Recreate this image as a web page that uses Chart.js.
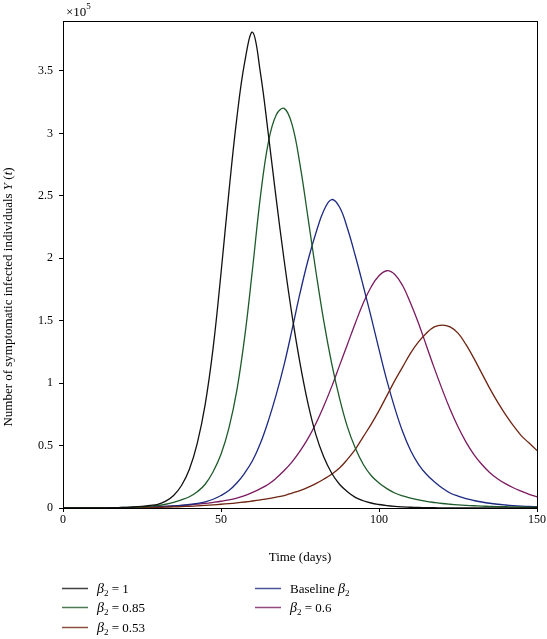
<!DOCTYPE html>
<html>
<head>
<meta charset="utf-8">
<script src="https://cdn.jsdelivr.net/npm/chart.js@4.4.1/dist/chart.umd.min.js"></script>
<style>
  html, body { margin: 0; padding: 0; background: #fff; }
  #wrap { width: 547px; height: 639px; }
</style>
</head>
<body>
<div id="wrap"><canvas id="chart" width="547" height="639"></canvas></div>
<script>
// Tempo (dias)
var days = [0, 2.5, 5, 7.5, 10, 12.5, 15, 17.5, 20, 22.5, 25, 27.5, 30, 32.5, 35, 37.5, 40, 42.5, 45, 47.5,
    50, 52.5, 55, 57.5, 60, 62.5, 65, 67.5, 70, 72.5, 75, 77.5, 80, 82.5, 85, 87.5, 90, 92.5, 95, 97.5,
    100, 102.5, 105, 107.5, 110, 112.5, 115, 117.5, 120, 122.5, 125, 127.5, 130, 132.5, 135, 137.5, 140, 142.5, 145, 147.5, 150];

// Infectados sintomáticos Y(t), em unidades de 1e5
var beta1 = [0, 0, 0, 0, 0, 0.001, 0.002, 0.003, 0.005, 0.008, 0.013, 0.02, 0.03, 0.055, 0.1, 0.18, 0.31, 0.52, 0.83, 1.28,
    1.88, 2.53, 3.12, 3.57, 3.81, 3.48, 2.99, 2.47, 1.98, 1.54, 1.16, 0.84, 0.59, 0.41, 0.28, 0.19, 0.13, 0.085, 0.058, 0.04,
    0.028, 0.019, 0.013, 0.009, 0.006, 0.004, 0.003, 0.002, 0.001, 0, 0, 0, 0, 0, 0, 0, 0, 0, 0, 0, 0];
var beta085 = [0, 0, 0, 0, 0.001, 0.001, 0.002, 0.003, 0.005, 0.007, 0.01, 0.014, 0.02, 0.03, 0.045, 0.065, 0.09, 0.13, 0.19, 0.29,
    0.43, 0.64, 0.94, 1.37, 1.92, 2.50, 2.93, 3.15, 3.20, 3.07, 2.75, 2.33, 1.90, 1.50, 1.16, 0.88, 0.65, 0.48, 0.35, 0.26,
    0.20, 0.155, 0.12, 0.097, 0.08, 0.065, 0.053, 0.044, 0.036, 0.03, 0.025, 0.021, 0.018, 0.015, 0.013, 0.011, 0.01, 0.009, 0.008, 0.007, 0.006];
var baseline = [0, 0, 0, 0, 0.001, 0.001, 0.002, 0.002, 0.003, 0.004, 0.005, 0.007, 0.009, 0.012, 0.016, 0.021, 0.028, 0.037, 0.05, 0.07,
    0.10, 0.14, 0.20, 0.28, 0.38, 0.52, 0.70, 0.91, 1.15, 1.43, 1.72, 1.98, 2.20, 2.38, 2.47, 2.41, 2.24, 2.02, 1.78, 1.53,
    1.27, 1.02, 0.80, 0.61, 0.46, 0.35, 0.27, 0.21, 0.16, 0.12, 0.095, 0.075, 0.06, 0.048, 0.038, 0.03, 0.024, 0.019, 0.015, 0.012, 0.01];
var beta06 = [0, 0, 0, 0, 0.001, 0.001, 0.002, 0.002, 0.003, 0.004, 0.005, 0.007, 0.01, 0.013, 0.017, 0.021, 0.026, 0.031, 0.037, 0.045,
    0.054, 0.065, 0.08, 0.10, 0.125, 0.155, 0.19, 0.24, 0.30, 0.37, 0.455, 0.555, 0.675, 0.815, 0.97, 1.14, 1.31, 1.48, 1.64, 1.77,
    1.86, 1.90, 1.87, 1.78, 1.64, 1.48, 1.30, 1.12, 0.95, 0.79, 0.65, 0.53, 0.43, 0.35, 0.285, 0.235, 0.195, 0.162, 0.135, 0.11, 0.09];
var beta053 = [0, 0, 0, 0, 0, 0.001, 0.001, 0.002, 0.002, 0.003, 0.003, 0.004, 0.005, 0.007, 0.009, 0.011, 0.014, 0.017, 0.021, 0.025,
    0.03, 0.035, 0.041, 0.048, 0.056, 0.065, 0.075, 0.087, 0.10, 0.12, 0.14, 0.165, 0.195, 0.23, 0.27, 0.32, 0.39, 0.47, 0.57, 0.67,
    0.78, 0.90, 1.02, 1.13, 1.24, 1.33, 1.40, 1.45, 1.465, 1.45, 1.40, 1.31, 1.20, 1.08, 0.96, 0.85, 0.75, 0.66, 0.58, 0.52, 0.46];

var yTicks = [0, 0.5, 1, 1.5, 2, 2.5, 3, 3.5];
var xTicks = [0, 50, 100, 150];

var serif = '"Liberation Serif", "DejaVu Serif", serif';

function pts(arr) {
    return days.map(function(d, i) { return { x: d, y: arr[i] }; });
}

function serie(label, sub, arr, color, col, row) {
    return {
        label: label, betaLabel: sub, legendCol: col, legendRow: row,
        data: pts(arr), borderColor: color, backgroundColor: color,
        borderWidth: 1.3, pointRadius: 0, fill: false,
        tension: 0.4
    };
}

var datasets = [
    serie('β2 = 1', { pre: '', post: ' = 1' }, beta1, '#111111', 0, 0),
    serie('β2 = 0.85', { pre: '', post: ' = 0.85' }, beta085, '#1e5a2a', 0, 1),
    serie('β2 = 0.53', { pre: '', post: ' = 0.53' }, beta053, '#6e2412', 0, 2),
    serie('Baseline β2', { pre: 'Baseline ', post: '' }, baseline, '#1c2a80', 1, 0),
    serie('β2 = 0.6', { pre: '', post: ' = 0.6' }, beta06, '#7a1a60', 1, 1)
];

// Desenha moldura, rótulos e legenda
var decor = {
    id: 'decor',
    afterDraw: function(chart) {
        var ctx = chart.ctx, a = chart.chartArea;
        ctx.save();
        ctx.strokeStyle = '#000';
        ctx.lineWidth = 1;
        ctx.strokeRect(Math.round(a.left) + 0.5, Math.round(a.top) + 0.5,
            Math.round(a.right - a.left), Math.round(a.bottom - a.top));

        ctx.fillStyle = '#000';
        ctx.textBaseline = 'alphabetic';
        // ×10^5
        ctx.font = '13px ' + serif;
        ctx.textAlign = 'left';
        ctx.fillText('×10', a.left + 3, 16);
        var w = ctx.measureText('×10').width;
        ctx.font = '9px ' + serif;
        ctx.fillText('5', a.left + 3 + w, 9);

        // Título do eixo x
        ctx.font = '13px ' + serif;
        ctx.textAlign = 'center';
        ctx.fillText('Time (days)', (a.left + a.right) / 2, 561);

        // Título do eixo y com partes em itálico
        var parts = [
            ['Number of symptomatic infected individuals ', ''],
            ['Y', 'italic '],
            [' (', ''],
            ['t', 'italic '],
            [')', '']
        ];
        var total = 0;
        parts.forEach(function(p) {
            ctx.font = p[1] + '13px ' + serif;
            p.push(ctx.measureText(p[0]).width);
            total += p[2];
        });
        ctx.translate(12, 297);
        ctx.rotate(-Math.PI / 2);
        ctx.textAlign = 'left';
        var x = -total / 2;
        parts.forEach(function(p) {
            ctx.font = p[1] + '13px ' + serif;
            ctx.fillText(p[0], x, 0);
            x += p[2];
        });
        ctx.setTransform(1, 0, 0, 1, 0, 0);

        // Legenda
        var colX = [62, 255], rowY = [588, 607, 627];
        chart.data.datasets.forEach(function(ds) {
            var lx = colX[ds.legendCol], ly = rowY[ds.legendRow];
            ctx.strokeStyle = ds.borderColor;
            ctx.globalAlpha = 0.8;
            ctx.lineWidth = 1.5;
            ctx.beginPath();
            ctx.moveTo(lx, ly + 0.5);
            ctx.lineTo(lx + 26, ly + 0.5);
            ctx.stroke();
            ctx.globalAlpha = 1;
            var tx = lx + 35, by = ly + 5;
            ctx.textAlign = 'left';
            ctx.font = '13px ' + serif;
            ctx.fillStyle = '#000';
            if (ds.betaLabel.pre) {
                ctx.fillText(ds.betaLabel.pre, tx, by);
                tx += ctx.measureText(ds.betaLabel.pre).width;
            }
            ctx.font = 'italic 14px ' + serif;
            ctx.fillText('β', tx, by);
            tx += ctx.measureText('β').width;
            ctx.font = '9px ' + serif;
            ctx.fillText('2', tx, by + 3);
            tx += ctx.measureText('2').width;
            if (ds.betaLabel.post) {
                ctx.font = '13px ' + serif;
                ctx.fillText(ds.betaLabel.post, tx, by);
            }
        });
        ctx.restore();
    }
};

var ctx = document.getElementById('chart').getContext('2d');
var chart = new Chart(ctx, {
    type: 'line',
    data: { datasets: datasets },
    options: {
        responsive: false,
        animation: false,
        layout: { padding: { left: 0, top: 21, right: 9, bottom: 111 } },
        plugins: { legend: { display: false }, tooltip: { enabled: false } },
        scales: {
            x: {
                type: 'linear', min: 0, max: 150,
                afterFit: function(s) { s.height = 20; },
                afterBuildTicks: function(s) { s.ticks = xTicks.map(function(v) { return { value: v }; }); },
                grid: { drawOnChartArea: false, tickLength: 4, color: '#000' },
                border: { color: '#000' },
                ticks: { color: '#000', padding: 1, maxRotation: 0, font: { family: serif, size: 12 },
                    callback: function(v) { return String(v); } }
            },
            y: {
                type: 'linear', min: 0, max: 3.9,
                afterFit: function(s) { s.width = 63; },
                afterBuildTicks: function(s) { s.ticks = yTicks.map(function(v) { return { value: v }; }); },
                grid: { drawOnChartArea: false, tickLength: 4, color: '#000' },
                border: { color: '#000' },
                ticks: { color: '#000', padding: 6, font: { family: serif, size: 12 },
                    callback: function(v) { return String(v); } }
            }
        }
    },
    plugins: [decor]
});
</script>
</body>
</html>
